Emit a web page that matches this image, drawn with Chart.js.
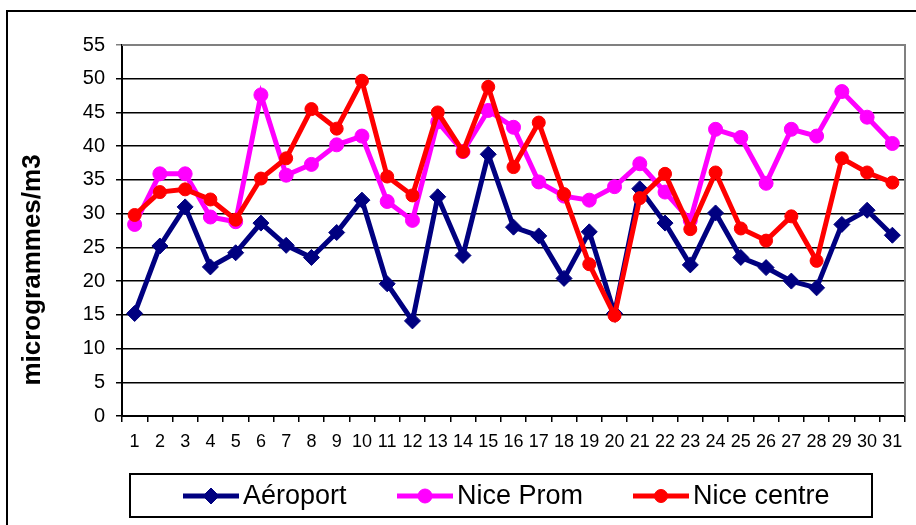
<!DOCTYPE html>
<html><head><meta charset="utf-8">
<script src="https://cdn.jsdelivr.net/npm/chart.js@4.4.1/dist/chart.umd.min.js"></script>
<style>html,body{margin:0;padding:0;background:#fff;overflow:hidden}#wrap{position:relative;width:916px;height:525px}</style>
</head><body><div id="wrap"><canvas id="c" width="916" height="525"></canvas></div>
<script>
const days = ['1','2','3','4','5','6','7','8','9','10','11','12','13','14','15','16','17','18','19','20','21','22','23','24','25','26','27','28','29','30','31'];
const aeroport = [15.2,25.2,31.0,22.1,24.2,28.6,25.3,23.5,27.2,32.0,19.6,14.1,32.5,23.8,38.8,28.0,26.7,20.4,27.3,15.2,33.7,28.6,22.4,30.1,23.5,22.0,20.0,19.0,28.4,30.5,26.8];
const nicePromenade = [28.4,35.9,35.9,29.5,28.8,47.6,35.7,37.3,40.2,41.5,31.8,29.0,43.6,39.2,45.3,42.8,34.7,32.6,32.0,34.0,37.4,33.2,29.0,42.5,41.3,34.5,42.5,41.5,48.1,44.3,40.4];
const niceCentre = [29.8,33.2,33.6,32.1,29.1,35.2,38.2,45.5,42.6,49.7,35.5,32.7,45.0,39.2,48.8,36.9,43.5,32.9,22.5,14.9,32.3,35.9,27.7,36.1,27.8,26.0,29.6,23.0,38.2,36.1,34.6];
const seriesNames = ['Aéroport','Nice Prom','Nice centre'];
const yTitle = 'microgrammes/m3';
const FONT = "'Liberation Sans', Arial, sans-serif";

const framePlugin = {
  id: 'frame',
  beforeDraw(chart) {
    const ctx = chart.ctx;
    ctx.save();
    ctx.fillStyle = '#fff';
    ctx.fillRect(0, 0, chart.width, chart.height);
    ctx.strokeStyle = '#000';
    ctx.lineWidth = 2;
    ctx.strokeRect(7, 11, 1000, 1000);
    ctx.restore();
  },
  beforeDatasetsDraw(chart) {
    const {ctx, chartArea: a} = chart;
    ctx.save();
    ctx.strokeStyle = '#808080';
    ctx.lineWidth = 2;
    ctx.beginPath();
    ctx.moveTo(a.left, a.top);
    ctx.lineTo(a.right, a.top);
    ctx.lineTo(a.right, a.bottom);
    ctx.stroke();
    ctx.restore();
  },
  afterDraw(chart) {
    const ctx = chart.ctx;
    ctx.save();
    // y axis title
    ctx.translate(33, 270);
    ctx.rotate(-Math.PI / 2);
    ctx.font = "bold 26px " + FONT;
    ctx.fillStyle = '#000';
    ctx.textAlign = 'center';
    ctx.textBaseline = 'middle';
    ctx.fillText(yTitle, 0, 0);
    ctx.restore();
    // legend
    ctx.save();
    ctx.strokeStyle = '#000';
    ctx.lineWidth = 2;
    ctx.strokeRect(130, 474, 742, 43);
    const starts = [183, 397, 633];
    const cy = 496;
    chart.data.datasets.forEach((ds, i) => {
      const x0 = starts[i], len = 56;
      ctx.strokeStyle = ds.borderColor;
      ctx.lineWidth = ds.borderWidth;
      ctx.beginPath();
      ctx.moveTo(x0, cy); ctx.lineTo(x0 + len, cy); ctx.stroke();
      ctx.fillStyle = ds.pointBackgroundColor;
      ctx.strokeStyle = ds.pointBorderColor;
      ctx.lineWidth = 1;
      Chart.helpers.drawPoint(ctx, {pointStyle: ds.pointStyle, radius: ds.pointRadius, borderWidth: 1, rotation: 0}, x0 + len / 2, cy);
      ctx.fillStyle = '#000';
      ctx.font = "27px " + FONT;
      ctx.textAlign = 'left';
      ctx.textBaseline = 'middle';
      ctx.fillText(ds.label, x0 + len + 4, cy + 1);
    });
    ctx.restore();
  }
};

new Chart(document.getElementById('c'), {
  type: 'line',
  data: {
    labels: days,
    datasets: [
      {label: seriesNames[0], data: aeroport, borderColor: '#000080', backgroundColor: '#000080', pointBackgroundColor: '#000080', pointBorderColor: '#000080', borderWidth: 5, pointStyle: 'rectRot', pointRadius: 8, pointBorderWidth: 1, tension: 0, order: 3},
      {label: seriesNames[1], data: nicePromenade, borderColor: '#FF00FF', backgroundColor: '#FF00FF', pointBackgroundColor: '#FF00FF', pointBorderColor: '#FF00FF', borderWidth: 5, pointStyle: 'circle', pointRadius: 7, pointBorderWidth: 1, tension: 0, order: 2},
      {label: seriesNames[2], data: niceCentre, borderColor: '#FF0000', backgroundColor: '#FF0000', pointBackgroundColor: '#FF0000', pointBorderColor: '#FF0000', borderWidth: 5, pointStyle: 'circle', pointRadius: 6.5, pointBorderWidth: 1, tension: 0, order: 1}
    ]
  },
  options: {
    responsive: false,
    animation: false,
    devicePixelRatio: 1,
    layout: {padding: {left: 0, top: 45, right: 11, bottom: 0}},
    plugins: {legend: {display: false}, tooltip: {enabled: false}, title: {display: false}},
    scales: {
      x: {
        offset: true,
        grid: {offset: true, drawOnChartArea: false, drawTicks: true, tickLength: 6, color: '#000', lineWidth: 1.5},
        border: {color: '#000', width: 2},
        ticks: {color: '#000', font: {family: FONT, size: 18}, autoSkip: false, maxRotation: 0, minRotation: 0, padding: 9},
        afterFit(s) { s.height = 109; }
      },
      y: {
        min: 0, max: 55,
        grid: {color: (c) => c.tick && c.tick.value === 55 ? '#808080' : '#000', lineWidth: 1.5, drawTicks: true, tickLength: 6},
        border: {color: '#000', width: 2},
        ticks: {stepSize: 5, color: '#000', font: {family: FONT, size: 20}, padding: 11},
        afterFit(s) { s.width = 122; }
      }
    }
  },
  plugins: [framePlugin]
});
</script></body></html>
